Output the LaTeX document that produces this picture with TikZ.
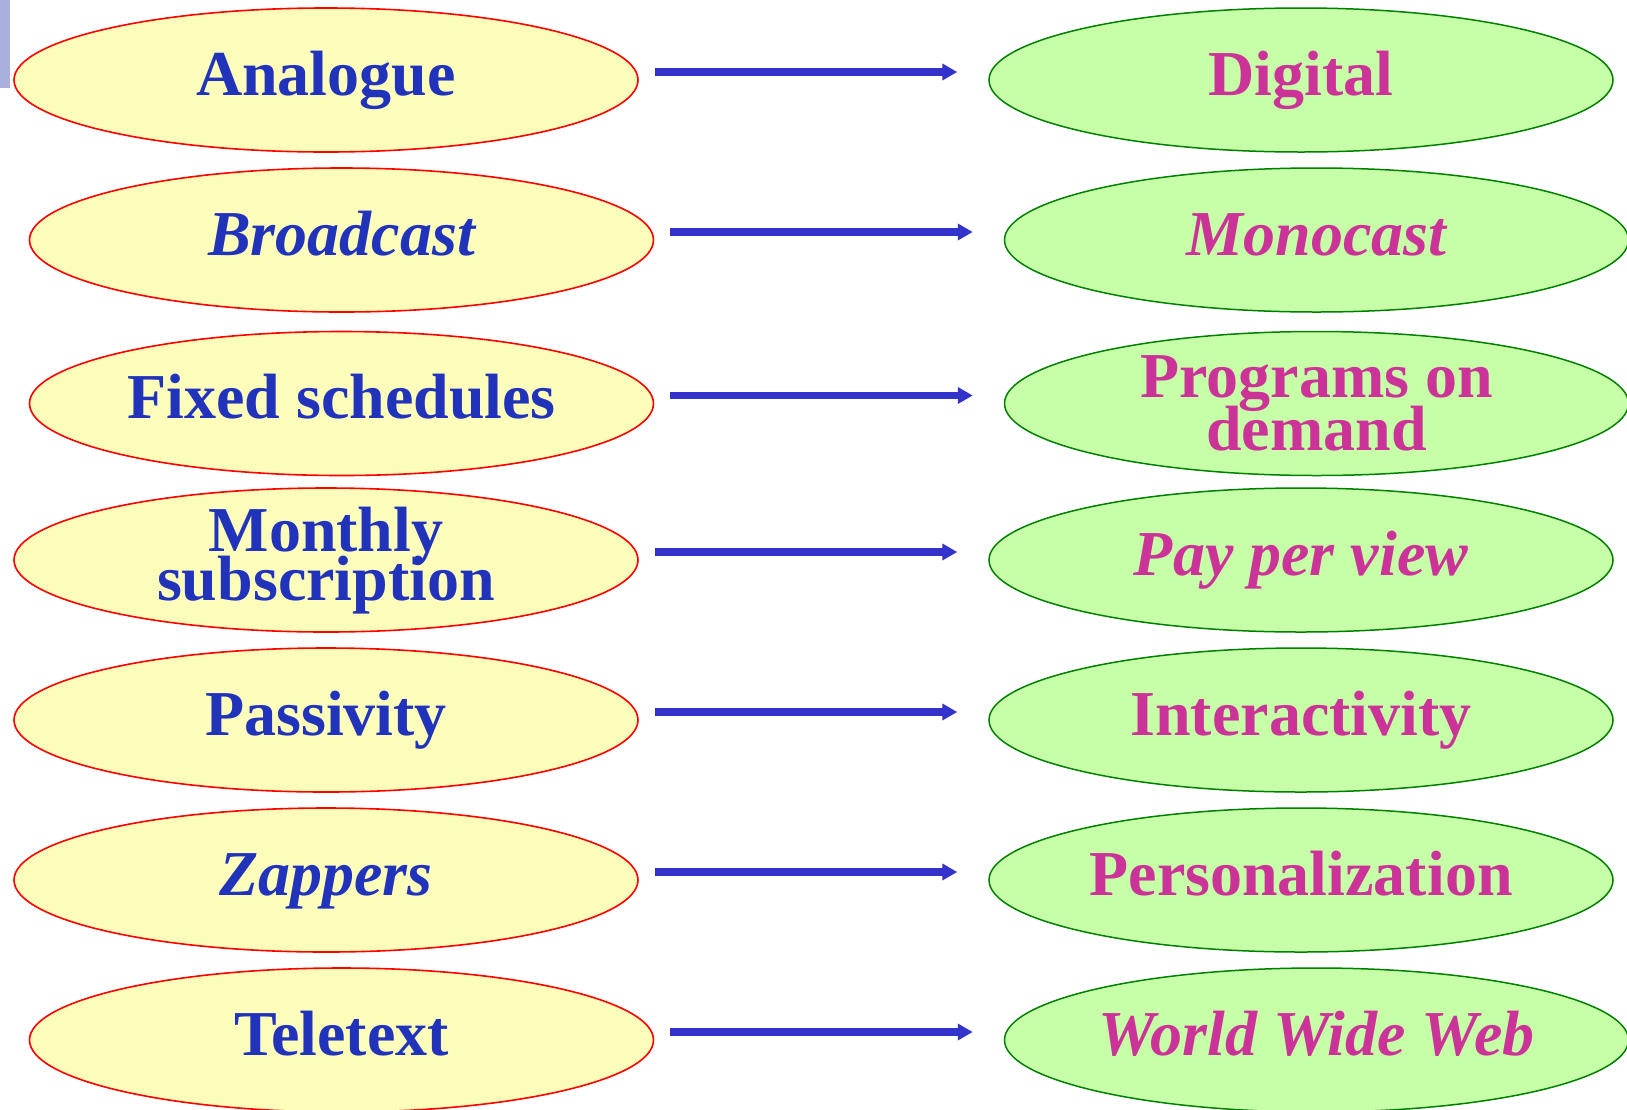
\documentclass[tikz,border=0pt]{standalone}
\usepackage{fontspec}
\setmainfont{Liberation Serif}
\usetikzlibrary{arrows.meta,shapes.geometric}
\definecolor{lfill}{HTML}{FCFCBB}
\definecolor{ldraw}{HTML}{FF0000}
\definecolor{ltext}{HTML}{2233BB}
\definecolor{rfill}{HTML}{C6FFA8}
\definecolor{rdraw}{HTML}{008000}
\definecolor{rtext}{HTML}{CC3399}
\definecolor{arrblue}{HTML}{3333CC}
\definecolor{tabcol}{HTML}{AAB0DD}
\newcommand\oneln[1]{\makebox[0pt]{\raisebox{-15pt}[0pt][0pt]{#1}}}
\newcommand\twoln[4]{\makebox[0pt]{\raisebox{#3}[0pt][0pt]{#1}}\makebox[0pt]{\raisebox{#4}[0pt][0pt]{#2}}}
\tikzset{
  ell/.style={ellipse, minimum width=624pt, minimum height=144pt, inner sep=0pt,
    font=\fontsize{64pt}{64pt}\selectfont\bfseries},
  lell/.style={ell, draw=ldraw, fill=lfill, line width=1.6pt, text=ltext},
  rell/.style={ell, draw=rdraw, fill=rfill, line width=1.5pt, text=rtext},
  arr/.style={draw=arrblue, line width=7.7pt, -{Triangle[length=15pt,width=16pt]}},
}
\begin{document}
\begin{tikzpicture}[x=1pt,y=-1pt]
\useasboundingbox (0,0) rectangle (1627,1109);
\fill[tabcol] (0,0) rectangle (10,88);
% left column
\node[lell] (L1) at (326,80)     {\oneln{Analogue}};
\node[lell] (L2) at (341.5,240)  {\oneln{\itshape Broadcast}};
\node[lell] (L3) at (341.5,403.5){\oneln{Fixed schedules}};
\node[lell] (L4) at (326,560)    {\twoln{Monthly}{subscription}{8.5pt}{-40.5pt}};
\node[lell] (L5) at (326,720)    {\oneln{Passivity}};
\node[lell] (L6) at (326,880)    {\oneln{\itshape Zappers}};
\node[lell] (L7) at (341.5,1040) {\oneln{Teletext}};
% right column
\node[rell] (R1) at (1301,80)     {\oneln{Digital}};
\node[rell] (R2) at (1316.5,240)  {\oneln{\itshape Monocast}};
\node[rell] (R3) at (1316.5,403.5){\twoln{Programs on}{demand}{6.5pt}{-46.5pt}};
\node[rell] (R4) at (1301,560)    {\oneln{\itshape Pay per view}};
\node[rell] (R5) at (1301,720)    {\oneln{Interactivity}};
\node[rell] (R6) at (1301,880)    {\oneln{Personalization}};
\node[rell] (R7) at (1316.5,1040) {\oneln{\itshape World Wide Web}};
% arrows
\foreach \i in {1,...,7}{
  \draw[arr] ([xshift=16pt,yshift=8pt]L\i.east) -- ([xshift=-31pt,yshift=8pt]R\i.west);
}
\end{tikzpicture}
\end{document}
